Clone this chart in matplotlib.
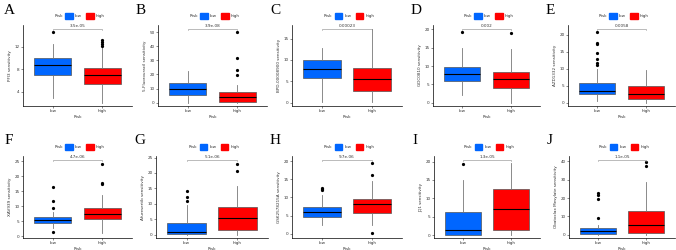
import matplotlib
matplotlib.use('Agg')
import matplotlib.pyplot as plt

# panel letters, drug names, p values
letters = ['A', 'B', 'C', 'D', 'E', 'F', 'G', 'H', 'I', 'J']
drugs = ['PFI3', '5-Fluorouracil', 'BPD-00008900', 'GDC0810', 'AZD1332',
         'XAV939', 'Afuresertib', 'GSK2578215A', 'JQ1', 'Obatoclax Mesylate']
pvals = ['3.5e-05', '3.9e-08', '0.00023', '0.002', '0.0058',
         '4.7e-06', '5.1e-06', '9.7e-06', '1.3e-05', '1.1e-05']

# box stats per group: [whislo, q1, med, q3, whishi]
low_stats = [
    [2.9, 7.0, 8.7, 10.0, 12.6],
    [0.0, 5.4, 9.8, 13.8, 22.2],
    [0.15, 5.8, 7.8, 10.0, 12.85],
    [2.2, 5.8, 7.7, 9.7, 14.8],
    [0.6, 2.5, 3.5, 6.0, 10.1],
    [2.7, 4.5, 5.5, 6.4, 8.0],
    [0.0, 0.1, 0.9, 3.9, 9.5],
    [2.3, 4.7, 5.9, 7.3, 10.7],
    [0.0, 0.1, 1.5, 6.3, 15.0],
    [0.0, 0.5, 1.8, 3.9, 5.5],
]
high_stats = [
    [2.0, 5.4, 7.06, 8.2, 11.9],
    [0.0, 0.7, 4.2, 7.5, 12.6],
    [0.1, 2.7, 5.5, 8.2, 17.2],
    [0.0, 4.0, 6.4, 8.5, 14.6],
    [0.0, 1.05, 2.6, 5.1, 9.7],
    [1.1, 5.8, 7.3, 9.3, 13.6],
    [0.0, 1.6, 5.5, 9.1, 15.8],
    [2.5, 5.8, 8.2, 9.65, 14.5],
    [0.0, 1.5, 7.0, 12.5, 19.7],
    [0.0, 0.9, 5.1, 13.2, 28.8],
]
low_fliers = [
    [14.6],
    [],
    [],
    [19.2],
    [11.25, 11.7, 13.0, 14.7, 17.2, 17.6, 20.8],
    [1.4, 9.6, 11.7, 16.3],
    [11.0, 12.3, 14.0],
    [12.0, 12.3, 12.5],
    [19.3],
    [9.0, 19.3, 21.5, 22.6],
]
high_fliers = [
    [12.2, 12.5, 12.8, 13.2],
    [19.6, 23.4, 31.5, 50.0],
    [],
    [18.9],
    [],
    [17.5, 17.9, 24.2],
    [20.5, 22.9],
    [0.2, 16.2, 19.6],
    [],
    [37.4, 39.8],
]
ylims = [(1.5, 15.9), (-2.3, 55), (-0.8, 18.2), (-0.9, 21.2), (-0.9, 22.9),
         (-0.5, 26.7), (-1.1, 25.5), (-1.2, 21.4), (-0.8, 21.5), (-1.8, 43)]
yticks = [[4, 8, 12], [0, 10, 20, 30, 40, 50], [0, 5, 10, 15], [0, 5, 10, 15, 20],
          [0, 5, 10, 15, 20], [0, 5, 10, 15, 20, 25], [0, 5, 10, 15, 20, 25],
          [0, 5, 10, 15, 20], [0, 5, 10, 15, 20], [0, 10, 20, 30, 40]]

# axes boxes in pixels (left, right, top, bottom)
px = [(23, 132, 25, 106), (158, 267, 25, 106), (292, 402, 25, 106),
      (433, 540, 25, 106), (568, 675, 25, 106),
      (23, 132, 156, 238), (156, 268, 156, 238), (292, 402, 156, 238),
      (434, 540, 156, 238), (569, 675, 156, 238)]

W, H = 676, 250
colors = ['#0066FF', '#FF0000']
fs = 3.0

fig = plt.figure(figsize=(W / 100, H / 100), dpi=100)

for i in range(10):
    l, r, t, b = px[i]
    ax = fig.add_axes([l / W, 1 - b / H, (r - l) / W, (b - t) / H])
    stats = []
    for s, fl in [(low_stats[i], low_fliers[i]), (high_stats[i], high_fliers[i])]:
        stats.append(dict(whislo=s[0], q1=s[1], med=s[2], q3=s[3], whishi=s[4], fliers=fl))
    bp = ax.bxp(stats, positions=[1, 2], widths=0.75, patch_artist=True,
                boxprops=dict(edgecolor='#555555', linewidth=0.5),
                medianprops=dict(color='black', linewidth=0.8),
                whiskerprops=dict(color='#777777', linewidth=0.6),
                capprops=dict(linewidth=0),
                flierprops=dict(marker='o', markersize=1.3, markerfacecolor='black',
                                markeredgecolor='black'))
    for patch, c in zip(bp['boxes'], colors):
        patch.set_facecolor(c)
    ax.set_xlim(0.4, 2.6)
    ax.set_ylim(*ylims[i])
    ax.set_yticks(yticks[i])
    ax.set_xticks([1, 2])
    ax.set_xticklabels(['low', 'high'])
    ax.tick_params(labelsize=fs, length=1.5, width=0.4, pad=1, colors='#333333')
    for sp in ['top', 'right']:
        ax.spines[sp].set_visible(False)
    for sp in ['left', 'bottom']:
        ax.spines[sp].set_linewidth(0.5)
    ax.set_ylabel(drugs[i] + ' sensitivity', fontsize=fs, labelpad=1.5, color='#333333')
    ax.set_xlabel('Risk', fontsize=fs, labelpad=1.0, color='#333333')

    # significance bracket
    y0, y1 = ylims[i]
    yb = y1 - (y1 - y0) * 0.05
    ax.plot([1, 1, 2, 2], [yb - (y1 - y0) * 0.015, yb, yb, yb - (y1 - y0) * 0.015],
            color='#888888', linewidth=0.4, clip_on=False)
    ax.text(1.5, yb + (y1 - y0) * 0.01, pvals[i], fontsize=fs, ha='center', va='bottom',
            color='#333333')

    # legend above plot
    cx = (l + r) / 2 / W
    ly = 1 - (t - 9) / H
    fig.text(cx - 0.022, ly, 'Risk', fontsize=fs, ha='right', va='center', color='#333333')
    for k, (lab, c) in enumerate(zip(['low', 'high'], colors)):
        x0 = cx - 0.018 + k * 0.031
        fig.patches.append(plt.Rectangle((x0, ly - 0.011), 0.011, 0.022, color=c,
                                         transform=fig.transFigure, figure=fig))
        fig.text(x0 + 0.014, ly, lab, fontsize=fs, ha='left', va='center', color='#333333')

    # panel letter
    lx = (px[i][0] - 20) / W if i % 5 == 0 else (px[i][0] - 22) / W
    fig.text(max(lx, 0.006), 1 - (t - 15) / H, letters[i], fontsize=11,
             family='Liberation Serif', ha='left', va='center')

fig.savefig('out.png', dpi=100)
